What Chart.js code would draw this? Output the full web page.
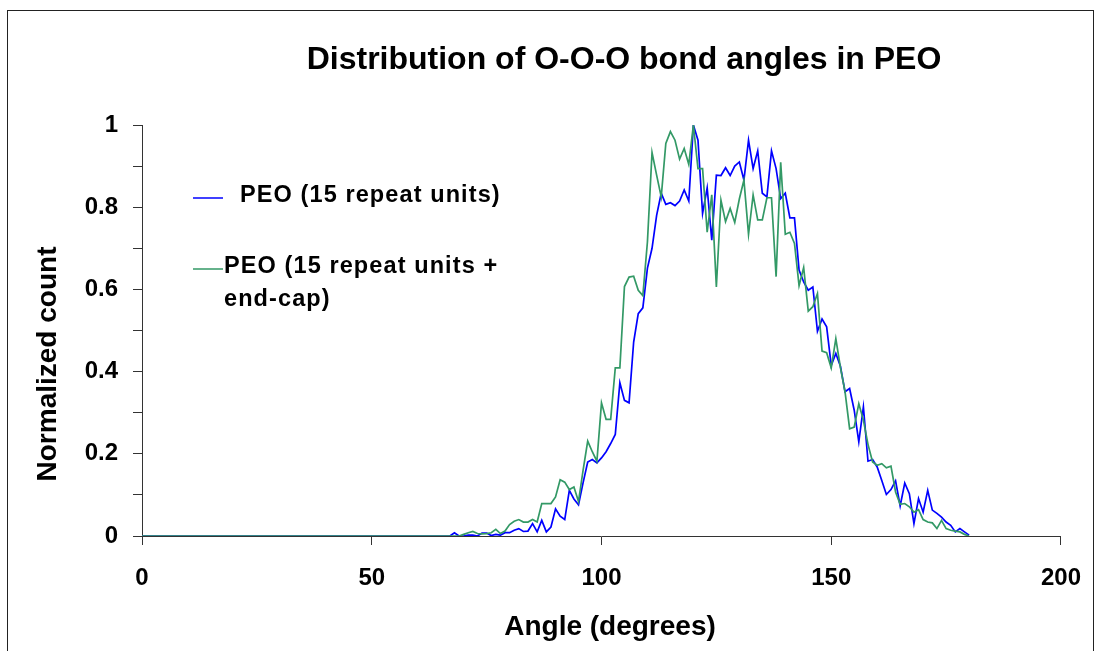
<!DOCTYPE html>
<html><head><meta charset="utf-8">
<script src="https://cdn.jsdelivr.net/npm/chart.js@4.4.1/dist/chart.umd.min.js"></script>
<style>
html,body{margin:0;padding:0;background:#fff;}
#wrap{position:relative;width:1100px;height:651px;overflow:hidden;background:#fff;}
#frame{position:absolute;left:7px;top:10px;width:1085px;height:700px;border:1px solid #222;pointer-events:none;}
canvas{position:absolute;left:0;top:0;}
</style></head><body>
<div id="wrap"><canvas id="c" width="1100" height="651"></canvas><div id="frame"></div></div>
<script>
const chartTitle = 'Distribution of O-O-O bond angles in PEO';
const xTitle = 'Angle (degrees)';
const yTitle = 'Normalized count';
const seriesNames = ['PEO (15 repeat units)', 'PEO (15 repeat units + end-cap)'];
const legendLines = [['PEO (15 repeat units)'], ['PEO (15 repeat units +', 'end-cap)']];
const xTickLabels = ['0', '50', '100', '150', '200'];
const yTickLabels = ['0', '0.2', '0.4', '0.6', '0.8', '1'];

const angles = [
  0,1,2,3,4,5,6,7,8,9,10,11,12,13,14,15,16,17,18,19,20,21,22,23,24,25,26,27,28,29,
  30,31,32,33,34,35,36,37,38,39,40,41,42,43,44,45,46,47,48,49,50,51,52,53,54,55,56,57,58,59,
  60,61,62,63,64,65,66,67,68,69,70,71,72,73,74,75,76,77,78,79,80,81,82,83,84,85,86,87,88,89,
  90,91,92,93,94,95,96,97,98,99,100,101,102,103,104,105,106,107,108,109,110,111,112,113,114,115,116,117,118,119,
  120,121,122,123,124,125,126,127,128,129,130,131,132,133,134,135,136,137,138,139,140,141,142,143,144,145,146,147,148,149,
  150,151,152,153,154,155,156,157,158,159,160,161,162,163,164,165,166,167,168,169,170,171,172,173,174,175,176,177,178,179,180
];

// PEO (15 repeat units)
const pureValues = [
  0,0,0,0,0,0,0,0,0,0,0,0,0,0,0,0,0,0,0,0,0,0,0,0,0,0,0,0,0,0,
  0,0,0,0,0,0,0,0,0,0,0,0,0,0,0,0,0,0,0,0,0,0,0,0,0,0,0,0,0,0,
  0,0,0,0,0,0,0,0,0.008,0,0,0.002,0.002,0,0.007,0.007,0.001,0.004,0.002,0.008,
  0.008,0.014,0.018,0.011,0.012,0.03,0.01,0.038,0.01,0.022,
  0.066,0.048,0.04,0.111,0.09,0.076,0.13,0.18,0.186,0.178,
  0.19,0.205,0.225,0.247,0.373,0.33,0.324,0.472,0.541,0.555,
  0.652,0.70,0.78,0.834,0.807,0.811,0.804,0.815,0.842,0.815,
  1.0,0.963,0.785,0.847,0.72,0.878,0.877,0.896,0.877,0.90,
  0.91,0.866,0.963,0.894,0.937,0.834,0.825,0.937,0.894,0.821,
  0.834,0.774,0.774,0.647,0.618,0.598,0.606,0.498,0.528,0.509,
  0.415,0.444,0.413,0.351,0.359,0.306,0.229,0.314,0.182,0.186,
  0.168,0.135,0.101,0.113,0.134,0.073,0.129,0.103,0.03,0.091,
  0.058,0.111,0.063,0.055,0.046,0.034,0.026,0.01,0.018,0.01,
  0.002
];

// PEO (15 repeat units + end-cap)
const endcapValues = [
  0,0,0,0,0,0,0,0,0,0,0,0,0,0,0,0,0,0,0,0,0,0,0,0,0,0,0,0,0,0,
  0,0,0,0,0,0,0,0,0,0,0,0,0,0,0,0,0,0,0,0,0,0,0,0,0,0,0,0,0,0,
  0,0,0,0,0,0,0,0,0,0,0.004,0.008,0.011,0.006,0.005,0.006,0.008,0.016,0.006,0.012,
  0.028,0.036,0.04,0.034,0.034,0.04,0.034,0.079,0.079,0.079,
  0.095,0.137,0.131,0.113,0.119,0.084,0.16,0.231,0.205,0.182,
  0.324,0.284,0.284,0.409,0.409,0.607,0.63,0.632,0.598,0.585,
  0.716,0.933,0.878,0.825,0.955,0.984,0.963,0.917,0.943,0.904,
  1.0,0.894,0.894,0.739,0.83,0.606,0.817,0.765,0.797,0.763,
  0.82,0.866,0.734,0.83,0.769,0.769,0.823,0.823,0.631,0.909,
  0.734,0.739,0.712,0.609,0.653,0.547,0.558,0.59,0.45,0.446,
  0.409,0.48,0.41,0.351,0.261,0.265,0.322,0.282,0.223,0.18,
  0.172,0.176,0.166,0.17,0.107,0.077,0.079,0.071,0.058,0.064,
  0.04,0.034,0.032,0.018,0.038,0.018,0.014,0.012,0.01,0.004,
  0
];

const FONT = '"Liberation Sans", Arial, Helvetica, sans-serif';
const pts = (vals) => angles.map((a, i) => ({x: a, y: vals[i]}));

const overlay = {
  id: 'overlay',
  afterDraw(chart) {
    const ctx = chart.ctx;
    ctx.save();
    ctx.fillStyle = '#000';
    ctx.textBaseline = 'alphabetic';
    ctx.font = 'bold 32px ' + FONT;
    ctx.textAlign = 'center';
    ctx.fillText(chartTitle, 624, 69);
    // axis titles
    ctx.font = 'bold 28px ' + FONT;
    ctx.textBaseline = 'middle';
    ctx.fillText(xTitle, 610, 627);
    ctx.save();
    ctx.translate(48, 364);
    ctx.rotate(-Math.PI / 2);
    ctx.fillText(yTitle, 0, 0);
    ctx.restore();
    // legend
    ctx.textBaseline = 'alphabetic';
    const items = [
      {lineY: 198, textX: 240, base: [202]},
      {lineY: 269, textX: 224, base: [273, 306]}
    ];
    ctx.textAlign = 'left';
    ctx.font = 'bold 23.5px ' + FONT;
    if ('letterSpacing' in ctx) ctx.letterSpacing = '1.1px';
    chart.data.datasets.forEach((ds, i) => {
      const it = items[i];
      ctx.strokeStyle = ds.borderColor;
      ctx.lineWidth = 1.5;
      ctx.beginPath();
      ctx.moveTo(193, it.lineY);
      ctx.lineTo(223, it.lineY);
      ctx.stroke();
      legendLines[i].forEach((t, k) => ctx.fillText(t, it.textX, it.base[k]));
    });
    ctx.restore();
  }
};

new Chart(document.getElementById('c'), {
  type: 'line',
  data: {
    datasets: [
      {label: seriesNames[0], data: pts(pureValues), borderColor: '#0000FF', borderWidth: 1.7, pointRadius: 0, tension: 0, fill: false, order: 1},
      {label: seriesNames[1], data: pts(endcapValues), borderColor: '#339966', borderWidth: 1.7, pointRadius: 0, tension: 0, fill: false, order: 0}
    ]
  },
  options: {
    responsive: false,
    animation: false,
    devicePixelRatio: 1,
    layout: {padding: {left: 0, top: 125, right: 38, bottom: 0}},
    plugins: {legend: {display: false}, title: {display: false}, tooltip: {enabled: false}},
    scales: {
      x: {
        type: 'linear', min: 0, max: 200,
        afterFit: (s) => { s.height = 115; },
        afterBuildTicks: (s) => { s.ticks = xTickLabels.map(t => ({value: Number(t)})); },
        ticks: {stepSize: 50, padding: 19, color: '#000', font: {family: FONT, size: 24, weight: 'bold'},
          callback: (v) => { const i = xTickLabels.indexOf(String(v)); return i >= 0 ? xTickLabels[i] : ''; }},
        grid: {drawOnChartArea: false, drawTicks: true, tickLength: 9, color: '#333', lineWidth: 1},
        border: {display: true, color: '#333', width: 1},
        title: {display: false}
      },
      y: {
        type: 'linear', min: 0, max: 1,
        afterFit: (s) => { s.width = 142; },
        ticks: {stepSize: 0.1, padding: 15, color: '#000', autoSkip: false, font: {family: FONT, size: 24, weight: 'bold'},
          callback: (v) => { const k = Math.round(v * 10); return k % 2 === 0 ? yTickLabels[k / 2] : ''; }},
        grid: {drawOnChartArea: false, drawTicks: true, tickLength: 9, color: '#333', lineWidth: 1},
        border: {display: true, color: '#333', width: 1},
        title: {display: false}
      }
    }
  },
  plugins: [overlay]
});
</script>
</body></html>
